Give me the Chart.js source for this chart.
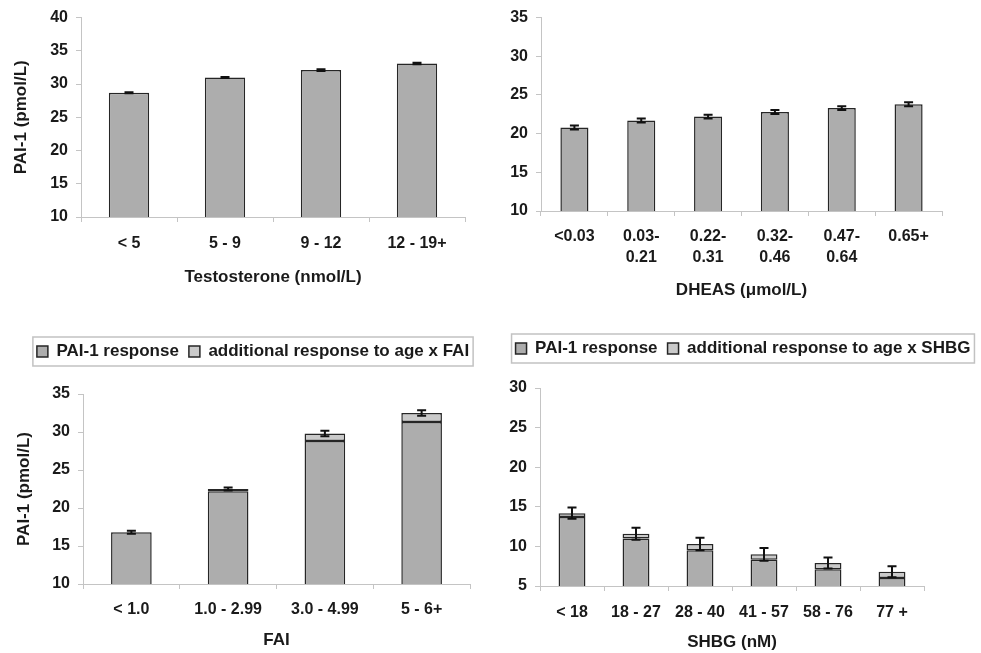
<!DOCTYPE html>
<html>
<head>
<meta charset="utf-8">
<title>PAI-1 by hormone level</title>
<script src="https://cdn.jsdelivr.net/npm/chart.js@4.4.0/dist/chart.umd.min.js"></script>
<style>
  html, body { margin: 0; padding: 0; background: #fff; overflow: hidden; }
  body { position: relative; width: 981px; height: 653px; }
  canvas { position: absolute; }
</style>
</head>
<body>
<canvas id="testo" width="490" height="300" style="left:0;top:0"></canvas>
<canvas id="dheas" width="491" height="305" style="left:490px;top:0"></canvas>
<canvas id="fai" width="506" height="343" style="left:0;top:310px"></canvas>
<canvas id="shbg" width="506" height="343" style="left:490px;top:310px"></canvas>
<script>
// Testosterone panel
const testo_labels = ['< 5', '5 - 9', '9 - 12', '12 - 19+'];
const testo_values = [28.7, 31.0, 32.1, 33.1];
const testo_errors = [0.08, 0.08, 0.12, 0.12];

// DHEAS panel
const dheas_labels = ['<0.03', ['0.03-', '0.21'], ['0.22-', '0.31'], ['0.32-', '0.46'], ['0.47-', '0.64'], '0.65+'];
const dheas_values = [20.8, 21.7, 22.2, 22.8, 23.3, 23.8];
const dheas_errors = [0.25, 0.25, 0.25, 0.25, 0.25, 0.25];

// FAI panel (stacked)
const fai_labels = ['< 1.0', '1.0 - 2.99', '3.0 - 4.99', '5 - 6+'];
const fai_base = [16.8, 22.2, 28.8, 31.3];
const fai_extra = [0, 0.3, 1.0, 1.2];
const fai_errors = [0.2, 0.2, 0.35, 0.35];

// SHBG panel (stacked)
const shbg_labels = ['< 18', '18 - 27', '28 - 40', '41 - 57', '58 - 76', '77 +'];
const shbg_base = [13.7, 11.0, 9.5, 8.3, 7.1, 6.0];
const shbg_extra = [0.5, 0.6, 0.8, 0.7, 0.8, 0.8];
const shbg_errors = [0.7, 0.75, 0.8, 0.8, 0.7, 0.7];

const BASE_COLOR = '#adadad';
const EXTRA_COLOR = '#cacaca';
const EDGE_COLOR = '#262626';
const AXIS_COLOR = '#c4c4c4';
const TEXT_COLOR = '#1a1a1a';

Chart.defaults.font.family = '"Liberation Sans", Arial, sans-serif';
Chart.defaults.font.weight = 'bold';
Chart.defaults.color = TEXT_COLOR;

// draw error bars on top of the stacked total of each category
const error_bars = {
    id: 'error_bars',
    afterDatasetsDraw(chart, args, opts) {
        const errors = opts.errors;
        if (!errors) return;
        const ctx = chart.ctx;
        const y = chart.scales.y;
        const metas = chart.getSortedVisibleDatasetMetas();
        const last = metas[metas.length - 1];
        errors.forEach((e, i) => {
            let total = 0;
            chart.data.datasets.forEach((ds) => total += ds.data[i]);
            const x = last.data[i].x;
            const top = y.getPixelForValue(total + e);
            const bot = y.getPixelForValue(total - e);
            ctx.save();
            ctx.strokeStyle = '#111';
            ctx.lineWidth = 2;
            ctx.beginPath();
            ctx.moveTo(x, top); ctx.lineTo(x, bot);
            ctx.moveTo(x - 4.5, top); ctx.lineTo(x + 4.5, top);
            ctx.moveTo(x - 4.5, bot); ctx.lineTo(x + 4.5, bot);
            ctx.stroke();
            ctx.restore();
        });
    }
};

// thin frame round the legend
const legend_frame = {
    id: 'legend_frame',
    afterDraw(chart) {
        const boxes = chart.legend && chart.legend.legendHitBoxes;
        if (!chart.options.plugins.legend.display || !boxes || !boxes.length) return;
        const left = Math.min(...boxes.map((b) => b.left)) - 4;
        const right = Math.max(...boxes.map((b) => b.left + b.width)) + 4;
        const top = Math.min(...boxes.map((b) => b.top)) - 6;
        const bottom = Math.max(...boxes.map((b) => b.top + b.height)) + 6;
        const ctx = chart.ctx;
        ctx.save();
        ctx.strokeStyle = '#c2c2c2';
        ctx.lineWidth = 1.5;
        ctx.strokeRect(left, top, right - left, bottom - top);
        ctx.restore();
    }
};

// extra space between legend and plot
function legend_gap(gap) {
    return {
        id: 'legend_gap',
        beforeInit(chart) {
            const fit = chart.legend.fit;
            chart.legend.fit = function () {
                fit.bind(chart.legend)();
                this.height += gap;
            };
        }
    };
}

function bar_set(label, data, color) {
    return {
        label: label,
        data: data,
        backgroundColor: color,
        borderColor: EDGE_COLOR,
        borderWidth: 1.5,
        borderSkipped: false,
        barPercentage: 0.42,
        categoryPercentage: 1
    };
}

function y_axis(min, max, width, title, title_pad) {
    return {
        stacked: true,
        min: min,
        max: max,
        ticks: { stepSize: 5, padding: 8, font: { size: 16 } },
        grid: { drawOnChartArea: false, tickLength: 5, color: AXIS_COLOR },
        border: { color: AXIS_COLOR },
        title: title ? { display: true, text: title, font: { size: 17 }, padding: { top: title_pad } } : { display: false },
        afterFit: (s) => { s.width = width; }
    };
}

function x_axis(height, tick_pad, title, title_pad) {
    return {
        stacked: true,
        ticks: { padding: tick_pad, font: { size: 16, lineHeight: 1.3 }, maxRotation: 0, autoSkip: false },
        grid: { drawOnChartArea: false, tickLength: 5, color: AXIS_COLOR },
        border: { color: AXIS_COLOR },
        title: { display: true, text: title, font: { size: 17 }, padding: { top: 0, bottom: title_pad } },
        afterFit: (s) => { s.height = height; }
    };
}

function spacer_axis(width) {
    return {
        position: 'right',
        display: true,
        grid: { display: false },
        border: { display: false },
        ticks: { display: false },
        afterFit: (s) => { s.width = width; }
    };
}

function legend_opts(show) {
    return {
        display: show,
        position: 'top',
        labels: { boxWidth: 11, boxHeight: 11, padding: 10, font: { size: 17 } }
    };
}

new Chart(document.getElementById('testo'), {
    type: 'bar',
    data: { labels: testo_labels, datasets: [bar_set('PAI-1', testo_values, BASE_COLOR)] },
    options: {
        responsive: false,
        animation: false,
        layout: { padding: { top: 16, right: 25, left: 0, bottom: 0 } },
        scales: {
            x: x_axis(83, 11, 'Testosterone (nmol/L)', 12),
            y: y_axis(10, 40, 81, 'PAI-1 (pmol/L)', 11)
        },
        plugins: { legend: legend_opts(false), tooltip: { enabled: false }, error_bars: { errors: testo_errors } }
    },
    plugins: [error_bars]
});

new Chart(document.getElementById('dheas'), {
    type: 'bar',
    data: { labels: dheas_labels, datasets: [bar_set('PAI-1', dheas_values, BASE_COLOR)] },
    options: {
        responsive: false,
        animation: false,
        layout: { padding: { top: 16, right: 39, left: 0, bottom: 0 } },
        scales: {
            x: x_axis(94, 10, 'DHEAS (\u03bcmol/L)', 4),
            y: y_axis(10, 35, 51, null, 0)
        },
        plugins: { legend: legend_opts(false), tooltip: { enabled: false }, error_bars: { errors: dheas_errors } }
    },
    plugins: [error_bars]
});

new Chart(document.getElementById('fai'), {
    type: 'bar',
    data: {
        labels: fai_labels,
        datasets: [
            bar_set('PAI-1 response', fai_base, BASE_COLOR),
            bar_set('additional response to age x FAI', fai_extra, EXTRA_COLOR)
        ]
    },
    options: {
        responsive: false,
        animation: false,
        layout: { padding: { top: 23, right: 0, left: 0, bottom: 0 } },
        scales: {
            x: x_axis(69, 10, 'FAI', 2),
            y: y_axis(10, 35, 83, 'PAI-1 (pmol/L)', 14),
            y2: spacer_axis(36)
        },
        plugins: { legend: legend_opts(true), tooltip: { enabled: false }, error_bars: { errors: fai_errors } }
    },
    plugins: [error_bars, legend_frame, legend_gap(24)]
});

new Chart(document.getElementById('shbg'), {
    type: 'bar',
    data: {
        labels: shbg_labels,
        datasets: [
            bar_set('PAI-1 response', shbg_base, BASE_COLOR),
            bar_set('additional response to age x SHBG', shbg_extra, EXTRA_COLOR)
        ]
    },
    options: {
        responsive: false,
        animation: false,
        layout: { padding: { top: 20, right: 0, left: 0, bottom: 0 } },
        scales: {
            x: x_axis(67, 11, 'SHBG (nM)', 0),
            y: y_axis(5, 30, 50, null, 0),
            y2: spacer_axis(72)
        },
        plugins: { legend: legend_opts(true), tooltip: { enabled: false }, error_bars: { errors: shbg_errors } }
    },
    plugins: [error_bars, legend_frame, legend_gap(21)]
});
</script>
</body>
</html>
